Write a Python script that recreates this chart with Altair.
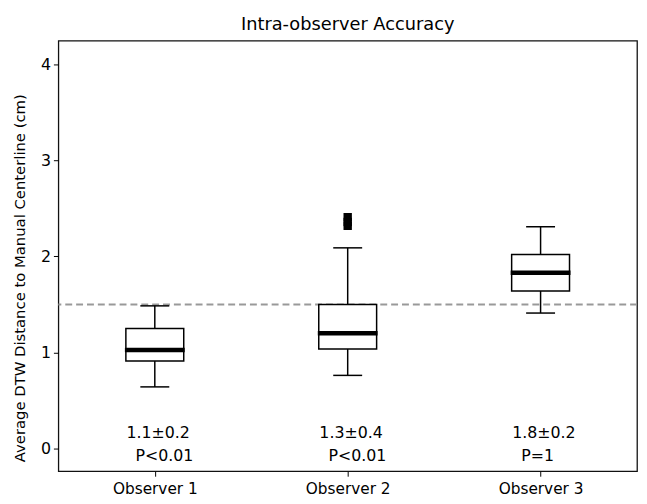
import altair as alt
import pandas as pd

observers = ["Observer 1", "Observer 2", "Observer 3"]
positions = [1, 2, 3]
whisker_low = [0.64, 0.76, 1.41]
q1 = [0.91, 1.035, 1.64]
median = [1.025, 1.20, 1.83]
q3 = [1.25, 1.50, 2.02]
whisker_high = [1.485, 2.09, 2.31]
outlier_pos = [2, 2, 2]
outlier_vals = [2.32, 2.36, 2.41]
mean_sd = ["1.1±0.2", "1.3±0.4", "1.8±0.2"]
pvals = ["P<0.01", "P<0.01", "P=1"]
threshold = 1.5

W, H = 586, 436
BW = 0.3
FONT = "DejaVu Sans"

box_df = pd.DataFrame({
    "pos": positions, "obs": observers,
    "lo": whisker_low, "q1": q1, "med": median, "q3": q3, "hi": whisker_high,
    "ms": mean_sd, "p": pvals,
})
box_df["left"] = box_df["pos"] - BW / 2
box_df["right"] = box_df["pos"] + BW / 2
box_df["capl"] = box_df["pos"] - BW / 4
box_df["capr"] = box_df["pos"] + BW / 4
box_df["medl"] = box_df["pos"] - BW / 2 - 0.005
box_df["medr"] = box_df["pos"] + BW / 2 + 0.005
box_df["ms_x"] = box_df["pos"] - 0.147
box_df["p_x"] = box_df["pos"] - 0.10

out_df = pd.DataFrame({"pos": outlier_pos, "val": outlier_vals})

xscale = alt.Scale(domain=[0.5, 3.5], nice=False, zero=False)
yscale = alt.Scale(domain=[-0.24, 4.25], nice=False, zero=False)

label_expr = "datum.value == 1 ? 'Observer 1' : datum.value == 2 ? 'Observer 2' : 'Observer 3'"

xaxis = alt.Axis(values=positions, labelExpr=label_expr, title=None, grid=False,
                 domain=False, tickSize=5, tickColor="black", tickWidth=1,
                 labelFontSize=15.5, labelFont=FONT, labelColor="black", labelPadding=6)
yaxis = alt.Axis(values=[0, 1, 2, 3, 4], format="d", grid=False, domain=False,
                 tickSize=5, tickColor="black", tickWidth=1,
                 labelFontSize=16, labelFont=FONT, labelColor="black", labelPadding=3,
                 title="Average DTW Distance to Manual Centerline (cm)",
                 titleFont=FONT, titleFontSize=15, titleFontWeight="normal",
                 titleColor="black", titleX=-39, titleY=H / 2 + 22, titleAngle=-90,
                 titleAlign="center", titleBaseline="middle")

base = alt.Chart(box_df)

thresh = alt.Chart(pd.DataFrame({"t": [threshold]})).mark_rule(
    color="#999999", strokeWidth=2, strokeDash=[7, 4]
).encode(y=alt.Y("t:Q", scale=yscale, axis=yaxis))

whisk_up = base.mark_rule(color="black", strokeWidth=1.5).encode(
    x=alt.X("pos:Q", scale=xscale, axis=xaxis), y="q3:Q", y2="hi:Q")
whisk_dn = base.mark_rule(color="black", strokeWidth=1.5).encode(
    x=alt.X("pos:Q", scale=xscale), y="lo:Q", y2="q1:Q")
cap_hi = base.mark_rule(color="black", strokeWidth=1.5).encode(
    x=alt.X("capl:Q", scale=xscale), x2="capr:Q", y="hi:Q")
cap_lo = base.mark_rule(color="black", strokeWidth=1.5).encode(
    x=alt.X("capl:Q", scale=xscale), x2="capr:Q", y="lo:Q")
box = base.mark_rect(fill="white", stroke="black", strokeWidth=1.5).encode(
    x=alt.X("left:Q", scale=xscale), x2="right:Q", y="q1:Q", y2="q3:Q")
med = base.mark_rule(color="black", strokeWidth=4.5).encode(
    x=alt.X("medl:Q", scale=xscale), x2="medr:Q", y="med:Q")

outl = alt.Chart(out_df).mark_point(shape="square", filled=True, color="black",
                                    size=72, opacity=1).encode(
    x=alt.X("pos:Q", scale=xscale), y=alt.Y("val:Q", scale=yscale))

txt_ms = base.mark_text(align="left", baseline="middle", fontSize=16, font=FONT,
                        color="black").encode(
    x=alt.X("ms_x:Q", scale=xscale), y=alt.datum(0.16), text="ms:N")
txt_p = base.mark_text(align="left", baseline="middle", fontSize=16, font=FONT,
                       color="black").encode(
    x=alt.X("p_x:Q", scale=xscale), y=alt.datum(-0.08), text="p:N")

chart = alt.layer(thresh, whisk_up, whisk_dn, cap_hi, cap_lo, box, med, outl,
                  txt_ms, txt_p).properties(
    width=W, height=H,
    title=alt.TitleParams("Intra-observer Accuracy", font=FONT, fontSize=18,
                          fontWeight="normal", color="black", anchor="middle",
                          offset=7),
    autosize=alt.AutoSizeParams(type="none"),
    padding={"left": 51, "top": 30, "right": 2, "bottom": 30},
).configure(background="white").configure_view(stroke="#111111", strokeWidth=1.3)

chart.save("out.html", embed_options={"renderer": "svg", "actions": False})
